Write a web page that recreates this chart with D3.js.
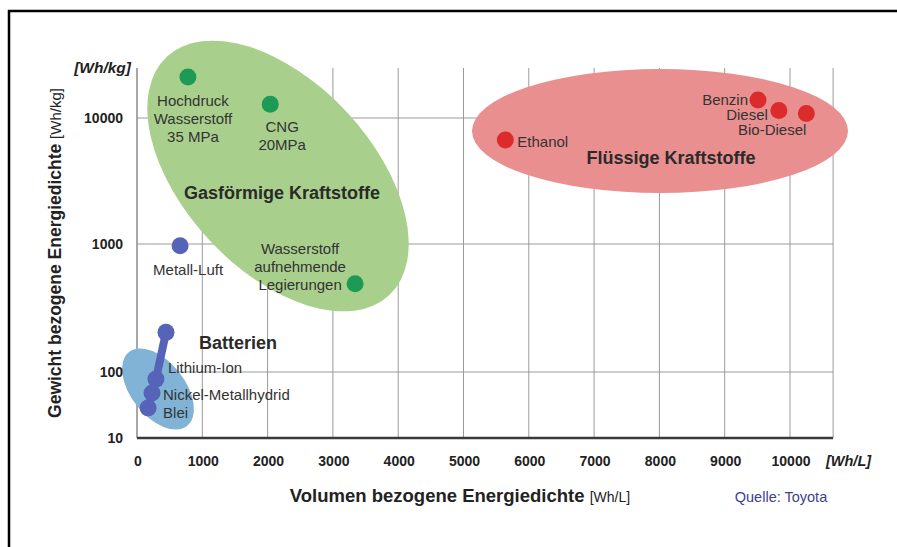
<!DOCTYPE html>
<html>
<head>
<meta charset="utf-8">
<script src="https://d3js.org/d3.v7.min.js"></script>
<style>
  body { margin: 0; background: #fff; }
  text { font-family: "Liberation Sans", Arial, sans-serif; }
</style>
</head>
<body>
<svg id="chart"></svg>
<script>
// ---- data ----
var xTicks = [0, 1000, 2000, 3000, 4000, 5000, 6000, 7000, 8000, 9000, 10000];
var yTicks = [10, 100, 1000, 10000];

var gasNames = ["Hochdruck|Wasserstoff|35 MPa", "CNG|20MPa", "Wasserstoff|aufnehmende|Legierungen"];
var gasVol   = [780, 2040, 3340];
var gasGrav  = [20500, 12700, 490];

var liquidNames = ["Ethanol", "Benzin", "Diesel", "Bio-Diesel"];
var liquidVol   = [5640, 9510, 9830, 10250];
var liquidGrav  = [6700, 13700, 11400, 10800];

var metalAirName = ["Metall-Luft"];
var metalAirVol  = [660];
var metalAirGrav = [970];

var batteryNames = ["", "Lithium-Ion", "Nickel-Metallhydrid", "Blei"];
var batteryVol   = [444, 290, 230, 170];
var batteryGrav  = [204, 78, 48, 28.5];

var W = 897, H = 547;
var svg = d3.select("#chart").attr("width", W).attr("height", H);

// scales (the y axis is compressed below 100, as in the original)
var x = d3.scaleLinear().domain([0, 10000]).range([137, 790]);
var y = d3.scaleLog().domain([10, 100, 1000, 10000, 24000]).range([438, 372, 244, 118, 68]);
var xRight = 833, yTop = 68, yBottom = 438;

// frame
svg.append("path")
  .attr("d", "M9,547 L9,11 L897,11")
  .attr("fill", "none").attr("stroke", "#000").attr("stroke-width", 2.5);

// grid
svg.selectAll(".vgrid").data(xTicks.slice(1).concat([10660])).enter().append("line")
  .attr("x1", function(d){ return x(d); }).attr("x2", function(d){ return x(d); })
  .attr("y1", yTop).attr("y2", yBottom)
  .attr("stroke", "#9a9a9a").attr("stroke-width", 1);
svg.selectAll(".hgrid").data(yTicks.slice(1)).enter().append("line")
  .attr("x1", x(0)).attr("x2", xRight)
  .attr("y1", function(d){ return y(d); }).attr("y2", function(d){ return y(d); })
  .attr("stroke", "#9a9a9a").attr("stroke-width", 1);

// y axis line
svg.append("line").attr("x1", x(0)).attr("x2", x(0)).attr("y1", yTop).attr("y2", yBottom)
  .attr("stroke", "#8a8a8a").attr("stroke-width", 1.5);

// ellipses
svg.append("ellipse")
  .attr("cx", 0).attr("cy", 0).attr("rx", 163).attr("ry", 94)
  .attr("transform", "translate(278,176) rotate(47)")
  .attr("fill", "#a9cf8d");
svg.append("ellipse")
  .attr("cx", 660).attr("cy", 131).attr("rx", 188).attr("ry", 62)
  .attr("fill", "#e98f8f");
svg.append("ellipse")
  .attr("cx", 0).attr("cy", 0).attr("rx", 47).attr("ry", 27)
  .attr("transform", "translate(158,389) rotate(52)")
  .attr("fill", "#80b3d6");

// x axis line
svg.append("line").attr("x1", x(0)).attr("x2", xRight).attr("y1", yBottom).attr("y2", yBottom)
  .attr("stroke", "#3a3a3a").attr("stroke-width", 2.5);

// tick labels
svg.selectAll(".xt").data(xTicks).enter().append("text")
  .attr("x", function(d){ return x(d) + 1; }).attr("y", 466)
  .attr("text-anchor", "middle")
  .style("font-weight", "bold").style("font-size", "14px")
  .attr("fill", "#222").text(function(d){ return d; });
svg.append("text").attr("x", 826).attr("y", 466)
  .style("font-weight", "bold").style("font-style", "italic")
  .style("font-size", "14.5px").attr("fill", "#222").text("[Wh/L]");

svg.selectAll(".yt").data(yTicks).enter().append("text")
  .attr("x", 123).attr("y", function(d){ return y(d) + 5; })
  .attr("text-anchor", "end")
  .style("font-weight", "bold").style("font-size", "14px")
  .attr("fill", "#222").text(function(d){ return d; });
svg.append("text").attr("x", 131).attr("y", 73).attr("text-anchor", "end")
  .style("font-weight", "bold").style("font-style", "italic")
  .style("font-size", "15.5px").attr("fill", "#222").text("[Wh/kg]");

// axis titles
var xt = svg.append("text").attr("x", 460).attr("y", 502).attr("text-anchor", "middle").attr("fill", "#222");
xt.append("tspan").style("font-weight", "bold").style("font-size", "18.5px").text("Volumen bezogene Energiedichte ");
xt.append("tspan").style("font-size", "14px").text("[Wh/L]");

var yt = svg.append("text").attr("transform", "translate(61,253) rotate(-90)")
  .attr("text-anchor", "middle").attr("fill", "#222");
yt.append("tspan").style("font-weight", "bold").style("font-size", "17.5px").text("Gewicht bezogene Energiedichte ");
yt.append("tspan").style("font-size", "15px").text("[Wh/kg]");

svg.append("text").attr("x", 781).attr("y", 502).attr("text-anchor", "middle")
  .style("font-size", "14.5px").attr("fill", "#3b4290").text("Quelle: Toyota");

// battery chain
var line = d3.line().x(function(d){ return x(d[0]); }).y(function(d){ return y(d[1]); });
svg.append("path").datum(d3.zip(batteryVol, batteryGrav))
  .attr("d", line).attr("fill", "none")
  .attr("stroke", "#5563b9").attr("stroke-width", 8).attr("stroke-linecap", "round");

function dots(vol, grav, color, r) {
  svg.selectAll(null).data(d3.zip(vol, grav)).enter().append("circle")
    .attr("cx", function(d){ return x(d[0]); })
    .attr("cy", function(d){ return y(d[1]); })
    .attr("r", r).attr("fill", color);
}
dots(gasVol, gasGrav, "#1d9a55", 8.5);
dots(liquidVol, liquidGrav, "#dc2b2b", 8.5);
dots(metalAirVol, metalAirGrav, "#5563b9", 8.5);
dots(batteryVol, batteryGrav, "#5563b9", 8.5);

// point labels: [dx, dy, anchor]
function labels(names, vol, grav, offs) {
  names.forEach(function(n, i) {
    if (!n) return;
    var o = offs[i];
    var t = svg.append("text")
      .attr("x", x(vol[i]) + o[0]).attr("y", y(grav[i]) + o[1])
      .attr("text-anchor", o[2]).style("font-size", "15px").attr("fill", "#333");
    n.split("|").forEach(function(s, k) {
      t.append("tspan").attr("x", x(vol[i]) + o[0]).attr("dy", k ? 18 : 0).text(s);
    });
  });
}
labels(gasNames, gasVol, gasGrav, [[5, 29, "middle"], [12, 28, "middle"], [-55, -30, "middle"]]);
labels(metalAirName, metalAirVol, metalAirGrav, [[8, 29, "middle"]]);
labels(batteryNames, batteryVol, batteryGrav, [null, [12, -6, "start"], [11, 7, "start"], [15, 10, "start"]]);
labels(liquidNames, liquidVol, liquidGrav, [[12, 7, "start"], [-10, 5, "end"], [-11, 9, "end"], [0, 21, "end"]]);

// group titles
function group(txt, cx, cy) {
  svg.append("text").attr("x", cx).attr("y", cy).attr("text-anchor", "middle")
    .style("font-weight", "bold").style("font-size", "18px").attr("fill", "#2a2a2a").text(txt);
}
group("Gasförmige Kraftstoffe", 282, 199);
group("Flüssige Kraftstoffe", 671, 164);
group("Batterien", 238, 349);
</script>
</body>
</html>
